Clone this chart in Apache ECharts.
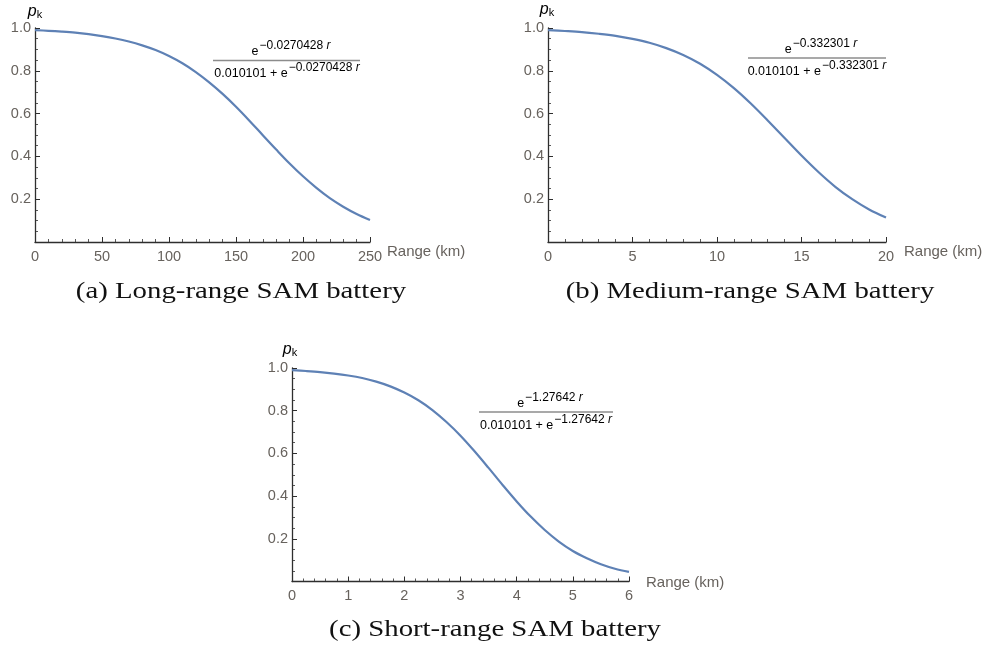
<!DOCTYPE html>
<html>
<head>
<meta charset="utf-8">
<script src="https://cdn.jsdelivr.net/npm/echarts@6/dist/echarts.min.js"></script>
<style>
  html, body { margin: 0; padding: 0; background: #ffffff; }
  #chart { width: 984px; height: 651px; }
</style>
</head>
<body>
<div id="chart"></div>
<script>
// Kill probability p_k versus range for three SAM battery types.
const longRangeKm = [0, 10, 20, 30, 40, 50, 60, 70, 80, 90, 100, 110, 120, 130, 140, 150, 160, 170, 180, 190, 200, 210, 220, 230, 240, 250];
const longRangePk = [0.990, 0.987, 0.983, 0.978, 0.971, 0.962, 0.951, 0.937, 0.919, 0.897, 0.869, 0.835, 0.794, 0.746, 0.692, 0.632, 0.567, 0.499, 0.432, 0.367, 0.307, 0.253, 0.205, 0.165, 0.131, 0.103];

const mediumRangeKm = [0, 1, 2, 3, 4, 5, 6, 7, 8, 9, 10, 11, 12, 13, 14, 15, 16, 17, 18, 19, 20];
const mediumRangePk = [0.990, 0.986, 0.981, 0.973, 0.963, 0.949, 0.931, 0.906, 0.874, 0.833, 0.781, 0.719, 0.647, 0.568, 0.486, 0.404, 0.327, 0.258, 0.200, 0.152, 0.114];

const shortRangeKm = [0, 0.25, 0.5, 0.75, 1, 1.25, 1.5, 1.75, 2, 2.25, 2.5, 2.75, 3, 3.25, 3.5, 3.75, 4, 4.25, 4.5, 4.75, 5, 5.25, 5.5, 5.75, 6];
const shortRangePk = [0.990, 0.986, 0.981, 0.974, 0.965, 0.953, 0.936, 0.914, 0.885, 0.849, 0.803, 0.747, 0.683, 0.610, 0.532, 0.452, 0.375, 0.304, 0.241, 0.187, 0.143, 0.109, 0.081, 0.060, 0.045];

// Axis extents and tick steps for each panel
const xMax = [250, 20, 6];
const xStep = [50, 5, 1];
const yTicks = [0.2, 0.4, 0.6, 0.8, 1.0];

const captions = ['(a) Long-range SAM battery', '(b) Medium-range SAM battery', '(c) Short-range SAM battery'];
const exponents = ['\u22120.0270428 ', '\u22120.332301 ', '\u22121.27642 '];
const constantTerm = '0.010101';
const xAxisTitle = 'Range (km)';

const LINE_COLOR = '#5e81b5';
const AXIS_COLOR = '#2e2e2e';
const LABEL_COLOR = '#67625d';
const SANS = '"Liberation Sans", Arial, sans-serif';
const SERIF = '"Liberation Serif", "Times New Roman", serif';

const grids = [
  { left: 35, top: 28, width: 335, height: 214 },
  { left: 548, top: 28, width: 338, height: 214 },
  { left: 292, top: 368, width: 337, height: 213.5 }
];

function makeXAxis(i) {
  return {
    type: 'value', gridIndex: i, min: 0, max: xMax[i], interval: xStep[i],
    axisLine: { show: true, onZero: false, lineStyle: { color: AXIS_COLOR, width: 1.3 } },
    axisTick: { show: true, inside: true, length: 5, lineStyle: { color: AXIS_COLOR, width: 1 } },
    minorTick: { show: true, splitNumber: 5, length: 3, lineStyle: { color: AXIS_COLOR, width: 0.8 } },
    axisLabel: { color: LABEL_COLOR, fontSize: 14.5, fontFamily: SANS, margin: 7 },
    splitLine: { show: false }
  };
}

function makeYAxis(i) {
  return {
    type: 'value', gridIndex: i, min: 0, max: 1, interval: 0.2,
    axisLine: { show: true, onZero: false, lineStyle: { color: AXIS_COLOR, width: 1.3 } },
    axisTick: { show: true, inside: true, length: 5, lineStyle: { color: AXIS_COLOR, width: 1 } },
    minorTick: { show: true, splitNumber: 4, length: 3, lineStyle: { color: AXIS_COLOR, width: 0.8 } },
    axisLabel: {
      color: LABEL_COLOR, fontSize: 14.5, fontFamily: SANS, margin: 4,
      formatter: v => (yTicks.some(t => Math.abs(t - v) < 1e-9) ? v.toFixed(1) : '')
    },
    splitLine: { show: false }
  };
}

function makeSeries(i, xs, ys) {
  return {
    type: 'line', xAxisIndex: i, yAxisIndex: i,
    data: xs.map((x, k) => [x, ys[k]]),
    showSymbol: false, smooth: 0.35,
    lineStyle: { color: LINE_COLOR, width: 2.2 },
    silent: true, animation: false
  };
}

// Rich-text styles for the fraction numerator and denominator
const fracRich = {
  e: { fontFamily: SANS, fontSize: 12.5, color: '#333', padding: [6, 0, 0, 0], lineHeight: 13 },
  x: { fontFamily: SANS, fontSize: 12, color: '#222', padding: [0, 0, 6, 1], lineHeight: 13 },
  r: { fontFamily: SANS, fontSize: 12, color: '#222', fontStyle: 'italic', padding: [0, 0, 6, 0], lineHeight: 13 },
  c: { fontFamily: SANS, fontSize: 12.5, color: '#222', padding: [6, 0, 0, 0], lineHeight: 13 }
};

function formula(i, cx, barY, x1, x2) {
  return [
    {
      type: 'text', x: cx + 4, y: barY - 5,
      style: {
        text: '{e|e}{x|' + exponents[i] + '}{r|r}',
        rich: fracRich, align: 'center', verticalAlign: 'bottom'
      }
    },
    {
      type: 'line', shape: { x1: x1, y1: barY, x2: x2, y2: barY },
      style: { stroke: '#8c8c8c', lineWidth: 1.5 }
    },
    {
      type: 'text', x: cx, y: barY + 4,
      style: {
        text: '{c|' + constantTerm + ' + }{e|e}{x|' + exponents[i] + '}{r|r}',
        rich: fracRich, align: 'center', verticalAlign: 'top'
      }
    }
  ];
}

function pkLabel(x, y) {
  return {
    type: 'text', x: x, y: y,
    style: {
      text: '{p|p}{k|k}',
      rich: {
        p: { fontFamily: SANS, fontSize: 16, fontStyle: 'italic', color: LABEL_COLOR, lineHeight: 16 },
        k: { fontFamily: SANS, fontSize: 11, color: LABEL_COLOR, padding: [6, 0, 0, 0], lineHeight: 11 }
      },
      align: 'center', verticalAlign: 'middle'
    }
  };
}

function rangeTitle(x, y) {
  return {
    type: 'text', x: x, y: y,
    style: { text: xAxisTitle, fontFamily: SANS, fontSize: 15, fill: LABEL_COLOR, align: 'left', verticalAlign: 'middle' }
  };
}

function caption(i, x, y) {
  return {
    type: 'text', x: x, y: y, scaleX: 1.2,
    style: { text: captions[i], fontFamily: SERIF, fontSize: 24, fill: '#111', align: 'center', verticalAlign: 'middle' }
  };
}

const chart = echarts.init(document.getElementById('chart'), null, { renderer: 'canvas' });
chart.setOption({
  animation: false,
  backgroundColor: '#ffffff',
  grid: grids,
  xAxis: [makeXAxis(0), makeXAxis(1), makeXAxis(2)],
  yAxis: [makeYAxis(0), makeYAxis(1), makeYAxis(2)],
  series: [
    makeSeries(0, longRangeKm, longRangePk),
    makeSeries(1, mediumRangeKm, mediumRangePk),
    makeSeries(2, shortRangeKm, shortRangePk)
  ],
  graphic: [
    pkLabel(35, 12), pkLabel(547, 10), pkLabel(290, 350),
    rangeTitle(387, 252), rangeTitle(904, 252), rangeTitle(646, 583),
    ...formula(0, 287, 60.5, 213, 360),
    ...formula(1, 817, 58, 748, 886),
    ...formula(2, 546, 412, 479, 613),
    caption(0, 241, 292), caption(1, 750, 292), caption(2, 495, 630)
  ]
});
</script>
</body>
</html>
